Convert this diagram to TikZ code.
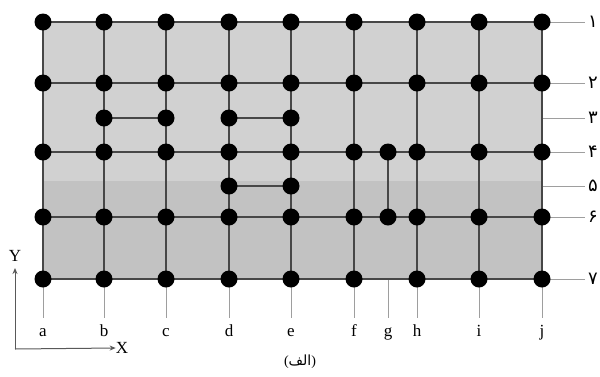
\documentclass[tikz,border=0pt]{standalone}
\usepackage{fontspec}
\usetikzlibrary{calc,arrows.meta}
\setmainfont{Liberation Serif}
\newfontfamily\arabicfont[Script=Arabic]{DejaVu Sans}
\TeXXeTstate=1
\begin{document}
\begin{tikzpicture}[x=1pt,y=-1pt,
  dot/.style={circle,fill=black,inner sep=0pt,minimum size=17pt},
  gridline/.style={draw=black!72,line width=1.7pt},
  tickline/.style={draw=black!38,line width=1pt},
  lab/.style={font=\fontsize{17}{17}\selectfont,inner sep=0pt},
  numlab/.style={font=\arabicfont\fontsize{18}{18}\selectfont,inner sep=0pt,anchor=west},
  axis/.style={draw=black!65,line width=1pt,-{Stealth[length=6pt,width=5pt]}}]
\useasboundingbox (0,0) rectangle (600,376);
\fill[black!18] (43,22) rectangle (542,181);
\fill[black!24] (43,181) rectangle (542,279);
% grid coordinates
\foreach \c/\x in {a/43,b/104,c/166,d/229,e/291,f/354,g/388,h/417,i/479,j/542}{
  \foreach \r/\y in {1/22,2/83,3/118,4/152,5/186,6/217,7/279}{
    \coordinate (\c\r) at (\x,\y);
  }
}
% right labels
\foreach \r/\d in {1/۱,2/۲,3/۳,4/۴,5/۵,6/۶,7/۷}{
  \node[numlab] (n\r) at ($(j\r)+(46,0)$) {\d};
  \draw[tickline] (j\r) -- ($(n\r.west)+(-3,0)$);
}
% bottom labels
\foreach \c in {a,b,c,d,e,f,g,h,i,j}{
  \node[lab,anchor=base] (l\c) at ($(\c7)+(0,57)$) {\c};
  \draw[tickline] (\c7) -- ($(\c7)+(0,39)$);
}
% grid lines
\foreach \r in {1,2,4,6,7}{ \draw[gridline] (a\r) -- (j\r); }
\foreach \c in {a,b,c,d,e,f,h,i,j}{ \draw[gridline] (\c1) -- (\c7); }
\draw[gridline] (g4) -- (g6);
\draw[gridline] (b3) -- (c3);
\draw[gridline] (d3) -- (e3);
\draw[gridline] (d5) -- (e5);
% dots
\foreach \c in {a,b,c,d,e,f,h,i,j}{
  \foreach \r in {1,2,7}{ \node[dot] (p\c\r) at (\c\r) {}; }
}
\foreach \c in {a,b,c,d,e,f,g,h,i,j}{
  \foreach \r in {4,6}{ \node[dot] (p\c\r) at (\c\r) {}; }
}
\foreach \c in {b,c,d,e}{ \node[dot] (p\c3) at (\c3) {}; }
\foreach \c in {d,e}{ \node[dot] (p\c5) at (\c5) {}; }
% axes
\coordinate (O) at (15,349);
\node[lab] (Y) at (15,256) {Y};
\node[lab] (X) at (122,348) {X};
\draw[axis] (O) -- (Y.south |- 0,268);
\draw[axis] (O) -- (X.west);
% caption
\node[font=\fontsize{14}{14}\selectfont,inner sep=0pt] (cap) at (300,362) {({\arabicfont\beginR الف\endR})};
\end{tikzpicture}
\end{document}
